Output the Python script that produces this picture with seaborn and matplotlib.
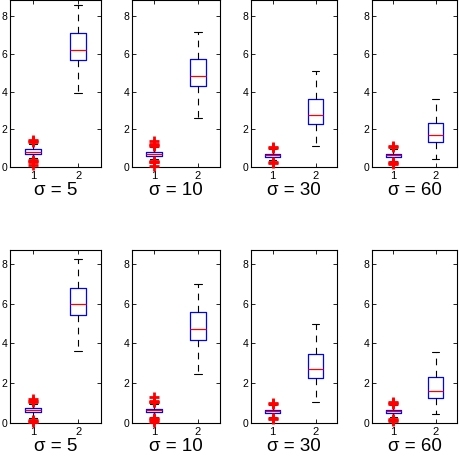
import numpy as np
import pandas as pd
import matplotlib
matplotlib.use("Agg")
import matplotlib.pyplot as plt
import seaborn as sns

sigmas = [5, 10, 30, 60]
group_labels = ["1", "2"]
y_ticks = [0, 2, 4, 6, 8]

# five-number summaries: [lower whisker, Q1, median, Q3, upper whisker]
top_g1 = [[0.50, 0.71, 0.81, 0.93, 1.20],
          [0.40, 0.59, 0.68, 0.80, 1.05],
          [0.35, 0.55, 0.65, 0.71, 0.95],
          [0.30, 0.55, 0.65, 0.71, 0.95]]
top_g2 = [[3.93, 5.70, 6.23, 7.12, 8.62],
          [2.62, 4.30, 4.83, 5.72, 7.15],
          [1.10, 2.30, 2.78, 3.61, 5.10],
          [0.44, 1.35, 1.70, 2.35, 3.59]]
bot_g1 = [[0.25, 0.53, 0.63, 0.74, 0.95],
          [0.30, 0.53, 0.63, 0.70, 0.95],
          [0.30, 0.51, 0.58, 0.66, 0.90],
          [0.30, 0.51, 0.58, 0.66, 0.90]]
bot_g2 = [[3.61, 5.42, 5.98, 6.81, 8.27],
          [2.46, 4.19, 4.73, 5.58, 7.02],
          [1.02, 2.25, 2.71, 3.47, 5.00],
          [0.42, 1.25, 1.61, 2.29, 3.56]]

# outliers of group 1
top_out = [[1.44, 1.38, 1.32, 0.36, 0.30, 0.24, 0.10],
           [1.38, 1.22, 1.17, 1.12, 0.34, 0.29, 0.24, 0.04],
           [1.08, 1.02, 0.28, 0.22],
           [1.12, 1.05, 0.26, 0.20, 0.14]]
bot_out = [[1.20, 1.12, 1.05, 0.15, 0.10, 0.05],
           [1.32, 1.12, 1.07, 1.02, 0.25, 0.20, 0.15, 0.02],
           [1.00, 0.95, 0.22, 0.17],
           [1.05, 0.98, 0.92, 0.20, 0.15, 0.10]]

sns.set_theme(style="white")
plt.rcParams['font.family'] = ['Liberation Sans', 'DejaVu Sans']

W, H = 459, 457
fig = plt.figure(figsize=(W / 100, H / 100), dpi=100)

cols = [(10, 91), (132, 88), (251, 86), (372, 85)]
rows = [(0.0, 167.0, 8.87), (250.0, 422.7, 8.72)]
row_data = [(top_g1, top_g2, top_out), (bot_g1, bot_g2, bot_out)]

for r, (ytop, ybot, ymax) in enumerate(rows):
    g1s, g2s, outs = row_data[r]
    for c, (x0, w) in enumerate(cols):
        ax = fig.add_axes([x0 / W, 1 - ybot / H, w / W, (ybot - ytop) / H])
        df = pd.DataFrame({"group": ["1"] * 5 + ["2"] * 5,
                           "value": g1s[c] + g2s[c]})
        sns.boxplot(data=df, x="group", y="value", order=group_labels,
                    whis=(0, 100), width=0.35, fill=False, color="blue",
                    linewidth=0.9, showfliers=False,
                    medianprops=dict(color="red", linewidth=0.9),
                    whiskerprops=dict(color="black", linestyle=(0, (6, 5)), linewidth=0.8),
                    capprops=dict(color="black", linewidth=0.8),
                    ax=ax)
        odf = pd.DataFrame({"group": ["1"] * len(outs[c]), "value": outs[c]})
        sns.stripplot(data=odf, x="group", y="value", order=group_labels,
                      jitter=False, marker="+", color="red", size=6.5,
                      linewidth=2.0, ax=ax)
        for coll in ax.collections:
            coll.set_clip_on(False)
        ax.set_xlim(-0.5, 1.5)
        ax.set_ylim(0, ymax)
        ax.set_yticks(y_ticks)
        ax.set_xticks([0, 1])
        ax.set_xticklabels(group_labels)
        ax.set_ylabel("")
        ax.set_xlabel(f"σ = {sigmas[c]}", fontsize=13.5, labelpad=0.5,
                      color="black")
        ax.tick_params(direction="in", length=3, width=0.6, labelsize=7.5,
                       top=True, right=True, left=True, bottom=True, pad=2,
                       colors="black")
        ax.tick_params(axis="x", pad=3, labelsize=8)
        for sp in ax.spines.values():
            sp.set_color("black")
            sp.set_linewidth(0.8)

fig.savefig("out.png", dpi=100)
